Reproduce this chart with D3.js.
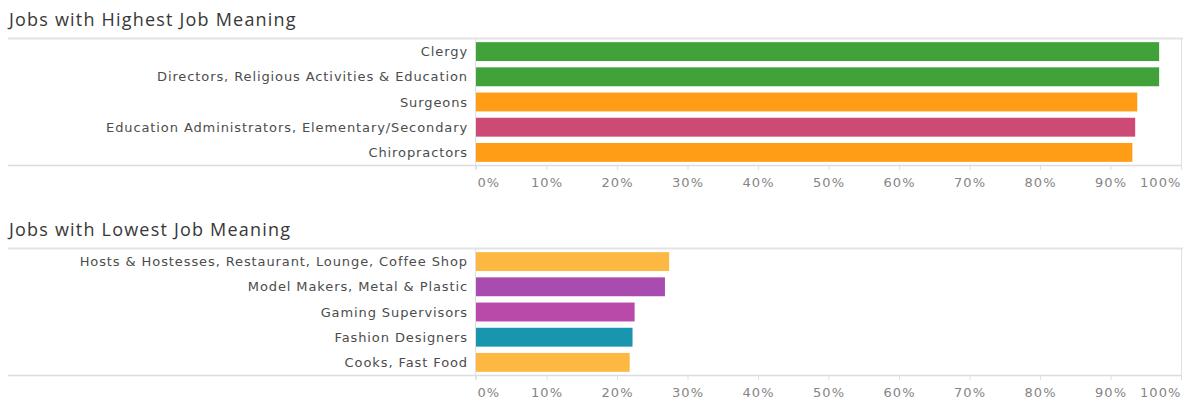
<!DOCTYPE html>
<html>
<head>
<meta charset="utf-8">
<script src="https://cdn.jsdelivr.net/npm/d3@7"></script>
<style>
  body { margin: 0; background: #fff; }
  svg { display: block; }
  .title { font-family: "Open Sans", "Lato", sans-serif; font-size: 18px; fill: #383838; letter-spacing: 1.2px; }
  .cat { font-family: "DejaVu Sans", Verdana, sans-serif; font-size: 13px; fill: #4c4c4c; letter-spacing: 0.9px; }
  .tick text { font-family: "DejaVu Sans", Verdana, sans-serif; font-size: 13px; fill: #858585; letter-spacing: 1.1px; }
</style>
</head>
<body>
<svg id="chart" width="1188" height="402"></svg>
<script>
  "use strict";

  const highJobs = ["Clergy", "Directors, Religious Activities & Education", "Surgeons",
    "Education Administrators, Elementary/Secondary", "Chiropractors"];
  const highValues = [0.969, 0.969, 0.938, 0.935, 0.931];
  const highColors = ["#42a23a", "#42a23a", "#ff9e16", "#cc4a73", "#ff9e16"];

  const lowJobs = ["Hosts & Hostesses, Restaurant, Lounge, Coffee Shop", "Model Makers, Metal & Plastic",
    "Gaming Supervisors", "Fashion Designers", "Cooks, Fast Food"];
  const lowValues = [0.274, 0.268, 0.225, 0.222, 0.218];
  const lowColors = ["#fdb844", "#a84cb0", "#b94aaa", "#1a95ae", "#fdb844"];

  const tickValues = [0, 0.1, 0.2, 0.3, 0.4, 0.5, 0.6, 0.7, 0.8, 0.9, 1.0];

  const svg = d3.select("#chart");
  const left = 8, axisX = 476, right = 1181;
  const x = d3.scaleLinear().domain([0, 1]).range([axisX, right]);

  function panel(title, jobs, values, colors, titleY, top, bottom) {
    const g = svg.append("g");
    g.append("text").attr("class", "title")
      .attr("x", left + 1).attr("y", titleY).text(title);

    const y = d3.scaleBand().domain(jobs).range([top, bottom]).paddingInner(0.25).paddingOuter(0.125);

    // frame lines
    g.append("line").attr("x1", left).attr("x2", right + 2).attr("y1", top - 0.5).attr("y2", top - 0.5)
      .attr("stroke", "#e3e3e3").attr("stroke-width", 2);
    g.append("line").attr("x1", left).attr("x2", right).attr("y1", bottom + 0.5).attr("y2", bottom + 0.5)
      .attr("stroke", "#dcdcdc").attr("stroke-width", 1.5);
    g.append("line").attr("x1", axisX - 0.5).attr("x2", axisX - 0.5).attr("y1", top).attr("y2", bottom + 4)
      .attr("stroke", "#e0e0e0");
    g.append("line").attr("x1", right + 0.5).attr("x2", right + 0.5).attr("y1", top).attr("y2", bottom + 4)
      .attr("stroke", "#e0e0e0");

    g.selectAll("rect.bar").data(jobs).join("rect")
      .attr("class", "bar")
      .attr("x", x(0))
      .attr("y", (d) => y(d))
      .attr("height", y.bandwidth())
      .attr("width", (d, i) => x(values[i]) - x(0))
      .attr("fill", (d, i) => colors[i]);

    g.selectAll("text.cat").data(jobs).join("text")
      .attr("class", "cat")
      .attr("x", axisX - 8)
      .attr("y", (d) => y(d) + y.bandwidth() / 2)
      .attr("dy", "0.35em")
      .attr("text-anchor", "end")
      .text((d) => d);

    const axis = g.append("g").attr("class", "tick-axis")
      .attr("transform", `translate(0,${bottom + 1})`)
      .call(d3.axisBottom(x).tickValues(tickValues).tickFormat(d3.format(".0%")).tickSize(4).tickPadding(8));
    axis.select(".domain").remove();
    axis.selectAll(".tick line").attr("stroke", "#e0e0e0");
    axis.selectAll(".tick text")
      .attr("text-anchor", (d) => (d === 0 ? "start" : d === 1 ? "end" : "middle"))
      .attr("dx", (d) => (d === 0 ? 1 : 0));
  }

  panel("Jobs with Highest Job Meaning", highJobs, highValues, highColors, 26, 39, 165);
  panel("Jobs with Lowest Job Meaning", lowJobs, lowValues, lowColors, 236, 249, 375);
</script>
</body>
</html>
